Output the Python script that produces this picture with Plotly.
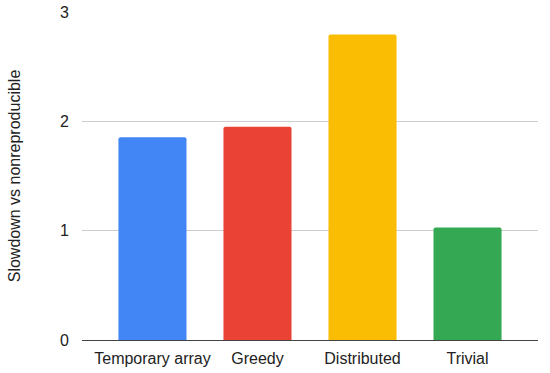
import plotly.graph_objects as go

categories = ["Temporary array", "Greedy", "Distributed", "Trivial"]
values = [1.855, 1.95, 2.795, 1.03]
colors = ["#4285F4", "#EA4335", "#FBBC04", "#34A853"]
y_ticks = [0, 1, 2, 3]

fig = go.Figure(go.Bar(
    x=categories, y=values,
    marker=dict(color=colors, line=dict(width=0), cornerradius=2),
    hoverinfo="x+y",
))

fig.update_layout(
    width=550, height=373,
    margin=dict(l=82, r=12, t=12, b=33),
    paper_bgcolor="white", plot_bgcolor="white",
    font=dict(family="Liberation Sans, Arial, sans-serif", size=16, color="#222222"),
    bargap=0.352,
    showlegend=False,
    xaxis=dict(range=[-0.671, 3.671], showgrid=False, showline=False, ticks="",
               automargin=False, tickfont=dict(size=16), ticklabelstandoff=7),
    yaxis=dict(range=[0, 3], tickvals=y_ticks, showgrid=True, gridcolor="#cccccc", gridwidth=1,
               zeroline=True, zerolinecolor="#444444", zerolinewidth=1.3,
               showline=False, ticks="", ticklabelstandoff=12, automargin=False,
               title=dict(text="Slowdown vs nonreproducible", standoff=35, font=dict(size=16))),
)

fig.write_html("out.html", config={"displayModeBar": False},
               post_script="document.body.style.margin='0';document.body.style.padding='0';")
